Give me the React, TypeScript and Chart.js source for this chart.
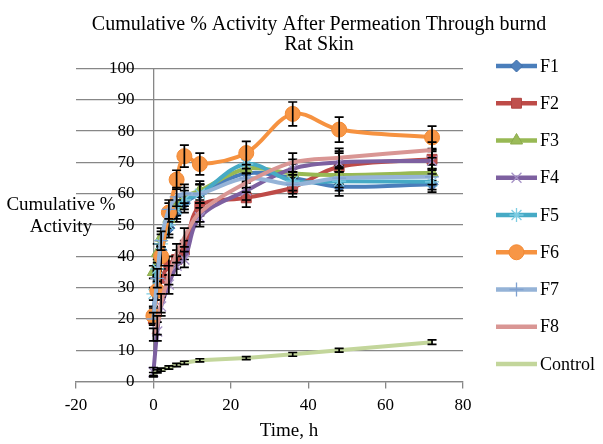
import React, { useEffect, useRef } from 'react';
import { Chart, registerables } from 'chart.js';
import { drawPoint } from 'chart.js/helpers';

Chart.register(...registerables);

// ---------- data ----------
const timeHours = [0, 1, 2, 4, 6, 8, 12, 24, 36, 48, 72];
const seriesLabels = ['F1', 'F2', 'F3', 'F4', 'F5', 'F6', 'F7', 'F8', 'Control'];

const f1Values = [22, 34, 42, 49, 54, 57, 60, 66.5, 65, 62.3, 63];
const f2Values = [20, 29, 33, 37, 39, 42, 56, 58.7, 62, 68.6, 71];
const f3Values = [35, 41, 46, 52, 56, 59, 61, 68, 66.5, 66, 66.7];
const f4Values = [3, 16, 24, 31, 37, 39, 52.5, 61, 68, 70, 70.5];
const f5Values = [28, 36, 44, 50, 55, 58, 60, 69.5, 64, 64, 63.8];
const f6Values = [21, 29, 40, 54, 64.5, 72, 69.5, 73, 85.5, 80.5, 78];
const f7Values = [20, 33, 45, 55, 59, 60, 60, 65, 63, 65, 65.4];
const f8Values = [15, 18, 25, 34, 41, 46, 54, 63.5, 70, 71.5, 74];
const controlValues = [2.4, 3.3, 3.8, 4.5, 5.3, 6, 6.8, 7.5, 8.7, 10, 12.6];

const f1Errors = [2, 2.5, 3, 3, 3, 3, 3, 3, 3, 3, 2.5];
const f2Errors = [2, 3, 3, 3, 3, 3, 3, 3, 3, 5, 3];
const f3Errors = [2, 3, 3, 3, 3, 3, 3, 3, 3, 3, 2.5];
const f4Errors = [1.5, 3, 3, 3, 3, 2.5, 3, 3, 3, 3, 3];
const f5Errors = [2, 3, 3, 3, 3, 3, 3, 3, 3, 3, 2.5];
const f6Errors = [2.5, 3, 3, 3, 3, 3.5, 3.5, 3.7, 3.8, 4, 3.6];
const f7Errors = [2, 3, 3, 3, 3, 3, 3, 3, 3, 3, 2.5];
const f8Errors = [2, 3, 3, 3, 3, 3, 3, 3, 3, 3, 2.5];
const controlErrors = [0.5, 0.5, 0.5, 0.5, 0.5, 0.5, 0.5, 0.5, 0.6, 0.6, 0.7];

const xTickValues = [-20, 0, 20, 40, 60, 80];
const yTickValues = [0, 10, 20, 30, 40, 50, 60, 70, 80, 90, 100];

const chartTitleLines = ['Cumulative % Activity After Permeation Through burnd', 'Rat Skin'];
const xAxisTitle = 'Time, h';
const yAxisTitleLines = ['Cumulative %', 'Activity'];

const allValues = [f1Values, f2Values, f3Values, f4Values, f5Values, f6Values, f7Values, f8Values, controlValues];
const allErrors = [f1Errors, f2Errors, f3Errors, f4Errors, f5Errors, f6Errors, f7Errors, f8Errors, controlErrors];

// ---------- styles ----------
const FONT = "'Liberation Serif', 'Times New Roman', serif";
const GRID = '#878787';
const seriesStyles = [
  { line: '#4A7EBB', fill: '#4F81BD', stroke: '#3E6DA8', point: 'rectRot', radius: 6, pbw: 1, tension: 0.35 },
  { line: '#BE4B48', fill: '#C0504D', stroke: '#B04542', point: 'rect', radius: 7, pbw: 1, tension: 0.35 },
  { line: '#98B954', fill: '#9BBB59', stroke: '#8CAB4D', point: 'triangle', radius: 7, pbw: 1, tension: 0.35 },
  { line: '#7D60A0', fill: '#A592C6', stroke: '#A592C6', point: 'crossRot', radius: 7, pbw: 1.3, tension: 0.35 },
  { line: '#46AAC5', fill: '#7FCDE3', stroke: '#7FCDE3', point: 'star', radius: 7, pbw: 1.3, tension: 0.35 },
  { line: '#F69240', fill: '#F79646', stroke: '#F28A35', point: 'circle', radius: 7.5, pbw: 1, tension: 0.35 },
  { line: '#95B3D7', fill: '#7FA1D0', stroke: '#7FA1D0', point: 'cross', radius: 7, pbw: 1.3, tension: 0.35 },
  { line: '#D99694', fill: '#D99694', stroke: '#D99694', point: 'circle', radius: 0, pbw: 0, tension: 0.35 },
  { line: '#C3D69B', fill: '#C3D69B', stroke: '#C3D69B', point: 'circle', radius: 0, pbw: 0, tension: 0 },
];

// ---------- plugins ----------
const errorBarPlugin = {
  id: 'errorBars',
  afterDatasetDraw(chart: any, args: any) {
    const ds: any = chart.data.datasets[args.index];
    const errs: number[] | undefined = ds.errorValues;
    if (!errs) return;
    const yScale = chart.scales.y;
    const ctx: CanvasRenderingContext2D = chart.ctx;
    ctx.save();
    ctx.strokeStyle = '#000000';
    ctx.lineWidth = 1.7;
    args.meta.data.forEach((el: any, i: number) => {
      const raw = ds.data[i];
      const e = errs[i];
      const x = el.x;
      const top = yScale.getPixelForValue(raw.y + e);
      const bot = yScale.getPixelForValue(raw.y - e);
      ctx.beginPath();
      ctx.moveTo(x, top);
      ctx.lineTo(x, bot);
      ctx.moveTo(x - 4.5, top);
      ctx.lineTo(x + 4.5, top);
      ctx.moveTo(x - 4.5, bot);
      ctx.lineTo(x + 4.5, bot);
      ctx.stroke();
    });
    ctx.restore();
  },
};

const titleShiftPlugin = {
  id: 'titleShift',
  afterLayout(chart: any) {
    const tb = chart.titleBlock;
    if (tb) {
      tb.left = 35;
      tb.right = chart.width;
    }
  },
};

const textPlugin = {
  id: 'extraText',
  afterDraw(chart: any) {
    const ctx: CanvasRenderingContext2D = chart.ctx;
    const area = chart.chartArea;
    ctx.save();
    ctx.fillStyle = '#000000';
    ctx.textBaseline = 'middle';

    // y axis title (horizontal, two lines)
    ctx.font = `19px ${FONT}`;
    ctx.textAlign = 'center';
    yAxisTitleLines.forEach((line, i) => {
      ctx.fillText(line, 61, 205 + i * 22);
    });

    // x axis title
    ctx.fillText(xAxisTitle, 289, 431);

    // legend
    const legendLeft = area.right + 33;
    const legendTop = area.top - 2.5;
    const step = 37.25;
    chart.data.datasets.forEach((ds: any, i: number) => {
      const st = seriesStyles[i];
      const y = legendTop + i * step;
      ctx.strokeStyle = st.line;
      ctx.lineWidth = 4.5;
      ctx.beginPath();
      ctx.moveTo(legendLeft, y);
      ctx.lineTo(legendLeft + 41, y);
      ctx.stroke();
      if (st.radius > 0) {
        ctx.fillStyle = st.fill;
        ctx.strokeStyle = st.stroke;
        ctx.lineWidth = st.pbw;
        drawPoint(ctx, { pointStyle: st.point as any, rotation: 0, radius: st.radius, borderWidth: st.pbw }, legendLeft + 20.5, y);
      }
      ctx.fillStyle = '#000000';
      ctx.font = `18px ${FONT}`;
      ctx.textAlign = 'left';
      ctx.fillText(ds.label, legendLeft + 44, y + 1);
    });
    ctx.restore();
  },
};

export default function App() {
  const canvasRef = useRef<HTMLCanvasElement | null>(null);

  useEffect(() => {
    if (!canvasRef.current) return;
    const datasets = seriesLabels.map((label, i) => {
      const st = seriesStyles[i];
      return {
        label,
        data: timeHours.map((t, j) => ({ x: t, y: allValues[i][j] })),
        errorValues: allErrors[i],
        borderColor: st.line,
        backgroundColor: st.fill,
        borderWidth: 4,
        pointStyle: st.point,
        pointRadius: st.radius,
        pointHoverRadius: st.radius,
        pointBackgroundColor: st.fill,
        pointBorderColor: st.stroke,
        pointBorderWidth: st.pbw,
        tension: st.tension,
        fill: false,
        order: seriesLabels.length - i,
      };
    });

    const chart = new Chart(canvasRef.current, {
      type: 'line',
      data: { datasets: datasets as any },
      plugins: [errorBarPlugin, titleShiftPlugin, textPlugin],
      options: {
        animation: false,
        responsive: true,
        maintainAspectRatio: false,
        layout: { padding: { left: 76, right: 140, top: 0, bottom: 21 } },
        plugins: {
          legend: { display: false },
          tooltip: { enabled: false },
          title: {
            display: true,
            text: chartTitleLines,
            color: '#000000',
            font: { family: FONT, size: 20, weight: 'normal', lineHeight: 1.0 },
            padding: { top: 15, bottom: 13.5 },
          },
        },
        scales: {
          x: {
            type: 'linear',
            position: 'bottom',
            min: -20,
            max: 80,
            afterBuildTicks: (scale: any) => {
              scale.ticks = xTickValues.map((v) => ({ value: v }));
            },
            ticks: {
              color: '#000000',
              font: { family: FONT, size: 17 },
              padding: 7,
              maxRotation: 0,
            },
            grid: {
              drawOnChartArea: true,
              drawTicks: true,
              tickLength: 7,
              color: (c: any) => (c.tick && c.tick.value === 0 ? GRID : 'rgba(0,0,0,0)'),
              tickColor: GRID,
              lineWidth: 1.3,
            },
            border: { display: true, color: GRID, width: 1.3 },
          },
          y: {
            type: 'linear',
            position: { x: -4.9 } as any,
            min: 0,
            max: 100,
            afterBuildTicks: (scale: any) => {
              scale.ticks = yTickValues.map((v) => ({ value: v }));
            },
            ticks: {
              color: '#000000',
              font: { family: FONT, size: 17 },
              padding: 0,
            },
            grid: {
              drawTicks: false,
              color: GRID,
              lineWidth: 1.3,
            },
            border: { display: false },
          },
        },
      },
    });
    return () => chart.destroy();
  }, []);

  return (
    <div style={{ position: 'fixed', left: 0, top: 0, width: 603, height: 444, background: '#ffffff' }}>
      <canvas ref={canvasRef} />
    </div>
  );
}
